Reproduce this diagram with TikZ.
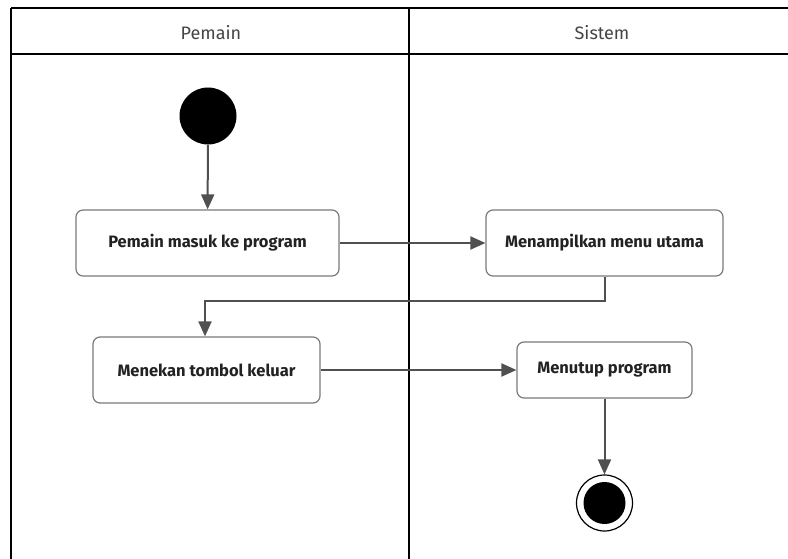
\documentclass[tikz,border=0pt]{standalone}
\usepackage{fontspec}
\setmainfont{Fira Sans}
\usetikzlibrary{arrows.meta}
\definecolor{linec}{HTML}{505050}
\definecolor{boxc}{HTML}{7A7A7A}
\definecolor{txtc}{HTML}{222222}
\definecolor{lanec}{HTML}{444444}
\tikzset{
  act/.style={draw=boxc, line width=1.2pt, rounded corners=7pt, fill=white, inner sep=0pt,
    font=\fontsize{16.5}{18}\selectfont\bfseries, text=txtc},
  flow/.style={draw=linec, line width=2pt, -{Triangle[length=15pt,width=13pt]}},
  frame/.style={draw=black, line width=2pt},
  lane/.style={font=\fontsize{18}{20}\selectfont, text=lanec},
}
\begin{document}
\begin{tikzpicture}[x=1pt,y=-1pt]
\useasboundingbox (0,0) rectangle (788,559);
% frame
\draw[frame] (11,8) -- (788,8);
\draw[frame] (11,54) -- (788,54);
\draw[frame] (11,8) -- (11,559);
\draw[frame] (409,8) -- (409,559);
\node[lane] (h1) at (211,33) {Pemain};
\node[lane] (h2) at (602,33) {Sistem};
% nodes
\node[circle, fill=black, minimum size=57pt, inner sep=0pt] (start) at (208,116) {};
\node[act, minimum width=263pt, minimum height=66pt] (a1) at (207.5,243) {Pemain masuk ke program};
\node[act, minimum width=237pt, minimum height=66pt] (a2) at (604.5,243) {Menampilkan menu utama};
\node[act, minimum width=227pt, minimum height=66pt] (a3) at (206.5,370) {Menekan tombol keluar};
\node[act, minimum width=175pt, minimum height=56pt] (a4) at (604.5,370) {Menutup program};
\node[circle, draw=black, line width=1.2pt, fill=white, minimum size=56pt, inner sep=0pt] (end) at (604.5,503) {};
\node[circle, fill=black, minimum size=42pt, inner sep=0pt] at (end.center) {};
% flows
\draw[flow] (start) -- (a1);
\draw[flow] (a1) -- (a2);
\draw[flow] (a2.south) |- (205,301) -- (a3.north -| 205,0);
\draw[flow] (a3) -- (a4);
\draw[flow] (a4) -- (end);
\end{tikzpicture}
\end{document}
